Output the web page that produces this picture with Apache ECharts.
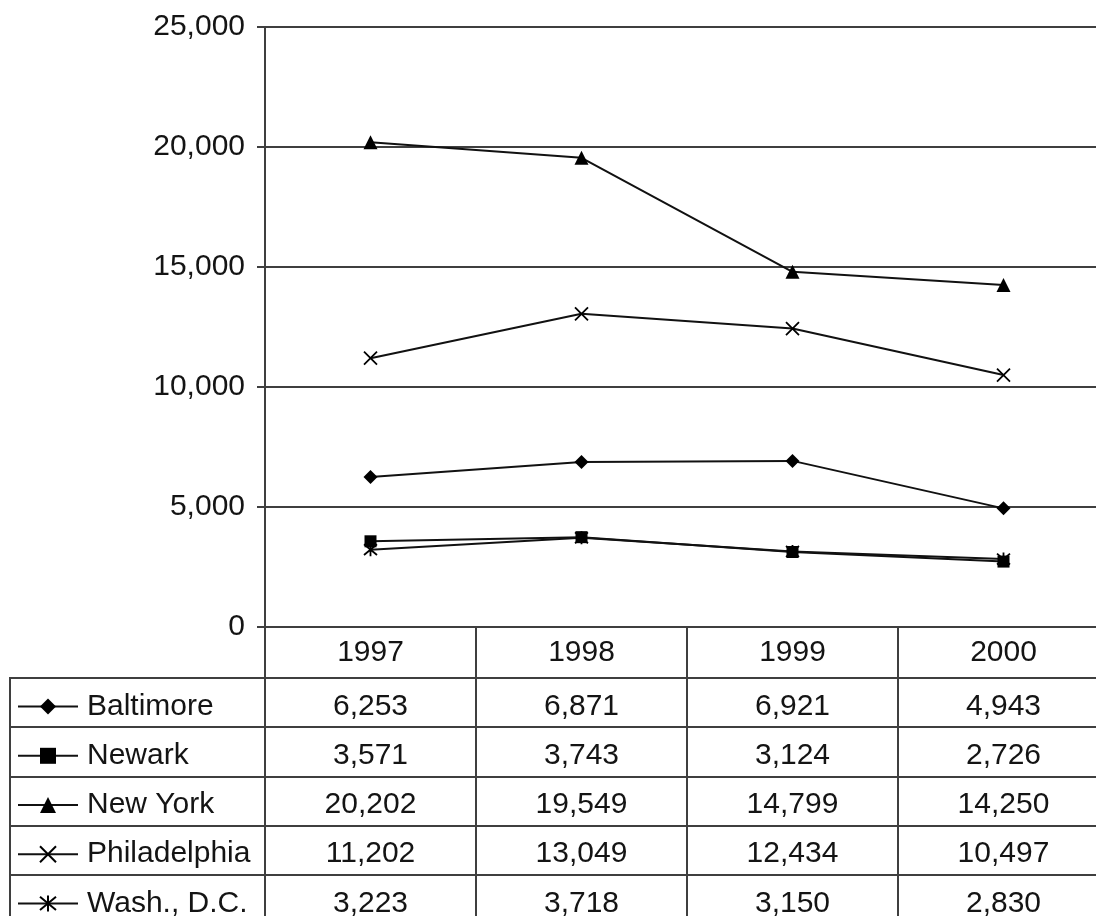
<!DOCTYPE html>
<html>
<head>
<meta charset="utf-8">
<script src="https://cdn.jsdelivr.net/npm/echarts@6/dist/echarts.min.js"></script>
<style>
  html, body { margin: 0; padding: 0; background: #fff; }
  #chart { width: 1096px; height: 916px; }
</style>
</head>
<body>
<div id="chart"></div>
<script>
// Annual counts per city, 1997-2000
const years = ['1997', '1998', '1999', '2000'];
const cities = ['Baltimore', 'Newark', 'New York', 'Philadelphia', 'Wash., D.C.'];
const baltimore = [6253, 6871, 6921, 4943];
const newark = [3571, 3743, 3124, 2726];
const newYork = [20202, 19549, 14799, 14250];
const philadelphia = [11202, 13049, 12434, 10497];
const washDC = [3223, 3718, 3150, 2830];
const yTicks = [0, 5000, 10000, 15000, 20000, 25000];

const seriesValues = [baltimore, newark, newYork, philadelphia, washDC];
const symbols = [
  'diamond',
  'rect',
  'triangle',
  'path://M0,0L10,10M10,0L0,10',
  'path://M0,0L10,10M10,0L0,10M5,-1L5,11'
];
const symbolSizes = [14, 12, 14, 13, 13];

const INK = '#141414';
const RULE = '#3f3f3f';
const FONT = '"Liberation Sans", Arial, sans-serif';
const FS = 30;
const fmt = v => v.toLocaleString('en-US');

// layout
const plotLeft = 265, plotTop = 27, plotH = 600;
const colW = 211;
const rowTop = 678, rowH = 49.2;
const legendLine = 32;

const chart = echarts.init(document.getElementById('chart'), null, { renderer: 'canvas' });

const lineSeries = cities.map((name, i) => ({
  name,
  type: 'line',
  xAxisIndex: 0,
  yAxisIndex: 0,
  data: seriesValues[i],
  symbol: symbols[i],
  symbolSize: symbolSizes[i],
  showAllSymbol: true,
  color: '#000',
  lineStyle: { color: '#111', width: 2 },
  itemStyle: { color: '#000', borderColor: '#000', borderWidth: i >= 3 ? 1.8 : 0 },
  emphasis: { disabled: true },
  z: 5
}));

// table cells: one entry per city/year
const cells = [];
cities.forEach((c, i) => years.forEach((y, j) => cells.push([y, c, seriesValues[i][j]])));

const gridBase = { outerBoundsMode: 'none', containLabel: false };

chart.setOption({
  animation: false,
  backgroundColor: '#fff',
  textStyle: { fontFamily: FONT },
  grid: [
    Object.assign({ left: plotLeft, top: plotTop, width: colW * 4, height: plotH, show: false }, gridBase),
    Object.assign({ left: plotLeft, top: rowTop, width: colW * 4, height: rowH * 5,
      show: true, borderColor: RULE, borderWidth: 2, backgroundColor: 'transparent' }, gridBase),
    Object.assign({ left: 10, top: rowTop, width: plotLeft - 10, height: rowH * 5,
      show: true, borderColor: RULE, borderWidth: 2, backgroundColor: 'transparent' }, gridBase)
  ],
  xAxis: [
    {
      gridIndex: 0, type: 'category', data: years, boundaryGap: true,
      axisLine: { show: true, lineStyle: { color: RULE, width: 2 } },
      axisTick: { show: true, length: rowTop - (plotTop + plotH), lineStyle: { color: RULE, width: 2 } },
      axisLabel: { color: INK, fontSize: FS, fontFamily: FONT, margin: 26, verticalAlign: 'middle' },
      splitLine: { show: false }
    },
    {
      gridIndex: 1, type: 'category', data: years, boundaryGap: true,
      axisLine: { show: false }, axisTick: { show: false }, axisLabel: { show: false },
      splitLine: { show: true, interval: 0, lineStyle: { color: RULE, width: 2 } }
    },
    {
      gridIndex: 2, type: 'category', data: [''],
      axisLine: { show: false }, axisTick: { show: false }, axisLabel: { show: false },
      splitLine: { show: false }
    }
  ],
  yAxis: [
    {
      gridIndex: 0, type: 'value', min: yTicks[0], max: yTicks[yTicks.length - 1], interval: 5000,
      axisLine: { show: true, lineStyle: { color: RULE, width: 2 } },
      axisTick: { show: true, length: 8, lineStyle: { color: RULE, width: 2 } },
      axisLabel: { color: INK, fontSize: FS, fontFamily: FONT, margin: 20, formatter: v => fmt(v) },
      splitLine: { show: true, lineStyle: { color: RULE, width: 2 } }
    },
    {
      gridIndex: 1, type: 'category', data: cities, inverse: true,
      axisLine: { show: false }, axisTick: { show: false }, axisLabel: { show: false },
      splitLine: { show: true, interval: 0, lineStyle: { color: RULE, width: 2 } }
    },
    {
      gridIndex: 2, type: 'category', data: cities, inverse: true,
      axisLine: { show: false }, axisTick: { show: false }, axisLabel: { show: false },
      splitLine: { show: true, interval: 0, lineStyle: { color: RULE, width: 2 } }
    }
  ],
  legend: {
    data: cities,
    orient: 'vertical',
    left: 17,
    top: rowTop + rowH / 2 - legendLine / 2 + 4,
    height: 320,
    padding: 0,
    itemWidth: 60,
    itemHeight: 20,
    itemGap: rowH - legendLine,
    selectedMode: false,
    textStyle: { color: INK, fontSize: FS, fontFamily: FONT, lineHeight: legendLine, padding: [0, 0, 0, 4] }
  },
  series: [
    ...lineSeries,
    {
      name: 'cells',
      type: 'scatter',
      xAxisIndex: 1,
      yAxisIndex: 1,
      data: cells,
      symbolSize: 0,
      itemStyle: { color: '#000' },
      label: {
        show: true,
        position: 'inside',
        offset: [0, 4],
        formatter: p => fmt(p.value[2]),
        color: INK,
        opacity: 1,
        textBorderWidth: 0,
        fontSize: FS,
        fontFamily: FONT
      },
      emphasis: { disabled: true },
      silent: true
    }
  ]
});
</script>
</body>
</html>
